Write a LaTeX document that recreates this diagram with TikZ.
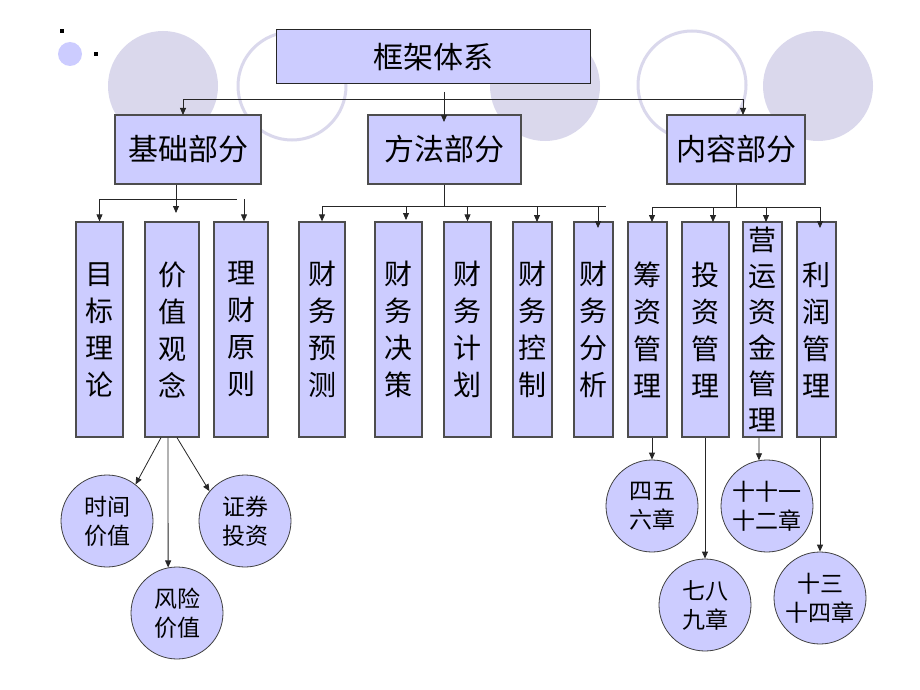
\documentclass[tikz,border=0pt]{standalone}
\usepackage{fontspec}
\setmainfont{Noto Sans CJK SC}
\usetikzlibrary{arrows.meta,calc}
\definecolor{boxfill}{HTML}{CCCCFF}
\definecolor{deco}{HTML}{DAD8EC}
\definecolor{edge}{HTML}{4D4D4D}
\begin{document}
\begin{tikzpicture}[x=1pt,y=-1pt,
  topbox/.style={draw=black!85, line width=1pt, fill=boxfill, minimum width=314pt, minimum height=54pt, inner sep=0pt, font=\fontsize{30}{36}\selectfont},
  midbox/.style={draw=edge, line width=1.3pt, fill=boxfill, minimum height=69pt, inner sep=0pt, font=\fontsize{30}{36}\selectfont},
  vbox/.style={draw=edge, line width=1.3pt, fill=boxfill, minimum height=215pt, inner sep=0pt, align=center, font=\fontsize{28}{37}\selectfont},
  chap/.style={circle, draw=black!75, line width=0.8pt, fill=boxfill, minimum size=92pt, inner sep=0pt, align=center, font=\fontsize{23}{29}\selectfont},
  conn/.style={draw=black!85, line width=0.8pt},
  arr/.style={conn, -{Triangle[length=7pt,width=6pt]}}]
\useasboundingbox (0,0) rectangle (920,690);
\fill[white] (0,0) rectangle (920,690);
% decorations
\fill[deco] (163,86) circle (55pt);
\draw[deco, line width=3pt] (292,86) circle (54pt);
\fill[deco] (545,86) circle (55pt);
\draw[deco, line width=3pt] (692,85) circle (54pt);
\fill[deco] (818,86) circle (55pt);
\fill[boxfill] (70,54) circle (12pt);
\fill[black] (60,29) rectangle (64,33);
\fill[black] (94,52) rectangle (98,56);
% level 1 and 2
\node[topbox] (top) at (433,57) {框架体系};
\node[midbox, minimum width=146pt] (jc) at (188,149.5) {基础部分};
\node[midbox, minimum width=153pt] (ff) at (444.5,149.5) {方法部分};
\node[midbox, minimum width=138pt] (nr) at (736,149.5) {内容部分};
% level 3
\node[vbox, minimum width=47pt] (mb) at (99.5,329.5) {目\\标\\理\\论};
\node[vbox, minimum width=54pt] (jz) at (172,329.5) {价\\值\\观\\念};
\node[vbox, minimum width=54pt] (lc) at (241,329.5) {理\\财\\原\\则};
\node[vbox, minimum width=46pt] (cw1) at (322,329.5) {财\\务\\预\\测};
\node[vbox, minimum width=47pt] (cw2) at (398.5,329.5) {财\\务\\决\\策};
\node[vbox, minimum width=47pt] (cw3) at (467.5,329.5) {财\\务\\计\\划};
\node[vbox, minimum width=39pt] (cw4) at (532.5,329.5) {财\\务\\控\\制};
\node[vbox, minimum width=39pt] (cw5) at (593.5,329.5) {财\\务\\分\\析};
\node[vbox, minimum width=39pt] (cz) at (647.5,329.5) {筹\\资\\管\\理};
\node[vbox, minimum width=47pt] (tz) at (705.5,329.5) {投\\资\\管\\理};
\node[vbox, minimum width=39pt, font=\fontsize{28}{36}\selectfont] (yy) at (762.5,329.5) {营\\运\\资\\金\\管\\理};
\node[vbox, minimum width=39pt] (lr) at (816.5,329.5) {利\\润\\管\\理};
% level 4
\node[chap] (sj) at (107,521) {时间\\价值};
\node[chap] (zq) at (245,521) {证券\\投资};
\node[chap] (fx) at (177,613) {风险\\价值};
\node[chap] (sw) at (652,506) {四五\\六章};
\node[chap] (ss) at (767,506) {十十一\\十二章};
\node[chap] (qb) at (705,605) {七八\\九章};
\node[chap] (sssi) at (820,598) {十三\\十四章};
% top connectors
\coordinate (t0) at (444,92);
\coordinate (h1) at (444,99);
\coordinate (a1) at (183,115);
\coordinate (a2) at (444,122);
\coordinate (a3) at (743,115);
\draw[conn] (t0) -- (h1);
\draw[arr] (h1) -| (a1);
\draw[arr] (h1) -- (a2);
\draw[arr] (h1) -| (a3);
% basic part
\coordinate (b0) at (176,199);
\coordinate (b1) at (237,199);
\coordinate (b2) at (176,213);
\coordinate (b3) at (244,199);
\draw[conn] (jc.south -| b0) -- (b0) -- (b1);
\draw[arr] (b0) -| (mb.north);
\draw[arr] (b0) -- (b2);
\draw[arr] (b3) -- (b3 |- lc.north);
% method part
\coordinate (f0) at (444,206);
\coordinate (fe) at (606,206);
\coordinate (f2) at (406,220);
\coordinate (f4) at (537,222);
\coordinate (f5) at (598,228);
\draw[conn] (ff.south -| f0) -- (f0);
\draw[conn] (cw1.north |- f0) -- (fe);
\draw[arr] (cw1.north |- f0) -- (cw1.north);
\draw[arr] (f2 |- f0) -- (f2);
\draw[arr] (cw3.north |- f0) -- (cw3.north);
\draw[arr] (f4 |- f0) -- (f4);
\draw[arr] (f5 |- f0) -- (f5);
% content part
\coordinate (n0) at (736,207);
\coordinate (n1) at (652,222);
\coordinate (n2) at (713,222);
\coordinate (n3) at (766,222);
\coordinate (n4) at (820,228);
\draw[conn] (nr.south -| n0) -- (n0);
\draw[conn] (n1 |- n0) -- (n4 |- n0);
\foreach \p in {n1,n2,n3,n4} \draw[arr] (\p |- n0) -- (\p);
% level 4 connectors
\draw[arr] ([xshift=-11pt]jz.south) -- (sj.52);
\draw[arr] ([xshift=-4pt]jz.south) -- (fx.101);
\draw[arr] ([xshift=5pt]jz.south) -- (zq.140);
\draw[arr] (sw.north |- cz.south) -- (sw.north);
\draw[arr] (qb.north |- tz.south) -- (qb.north);
\draw[arr] ([xshift=-3.5pt]yy.south) -- (ss.100);
\draw[arr] (sssi.north |- lr.south) -- (sssi.north);
\end{tikzpicture}
\end{document}
